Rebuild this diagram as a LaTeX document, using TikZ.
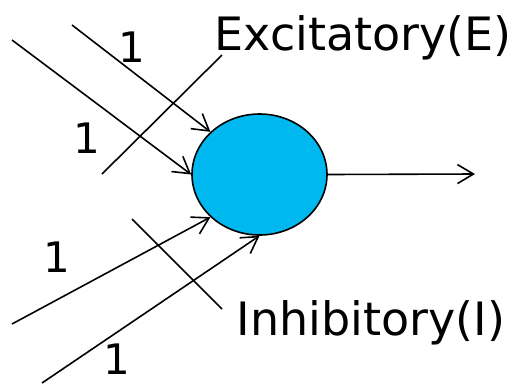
\documentclass[tikz,border=0pt]{standalone}
\usepackage{fontspec}
\setmainfont{DejaVu Sans}
\usepackage{tikz}
\usetikzlibrary{shapes.geometric, arrows.meta}
\definecolor{cellBlue}{HTML}{00B8F0}

\begin{document}
\begin{tikzpicture}[x=1pt, y=-1pt, line width=1.6pt,
    syn/.style={-{Straight Barb[length=16pt, width=19pt]}},
    weight/.style={font=\fontsize{42}{42}\selectfont, inner sep=0pt},
    tag/.style={font=\fontsize{46}{46}\selectfont, inner sep=0pt}]
    \useasboundingbox (0,0) rectangle (522,384);

    \node[ellipse, draw, fill=cellBlue, minimum width=135pt, minimum height=121pt,
          inner sep=0pt] (neuron) at (259.5,174.5) {};

    % inputs and output
    \coordinate (in1) at (72,25);
    \coordinate (in2) at (12,40);
    \coordinate (in3) at (12,324);
    \coordinate (in4) at (42,383);
    \coordinate (out) at (475,174);
    \draw[syn] (in1) -- (neuron.139);
    \draw[syn] (in2) -- (neuron.180);
    \draw[syn] (in3) -- (neuron.221);
    \draw[syn] (in4) -- (neuron.270);
    \draw[syn] (neuron.east) -- (out);

    \node[weight] (w1) at (132,47) {1};
    \node[weight] (w2) at (87,138) {1};
    \node[weight] (w3) at (57,257) {1};
    \node[weight] (w4) at (117,359) {1};

    % excitatory / inhibitory marks
    \node[tag, anchor=base] (excit) at (363,50) {Excitatory(E)};
    \node[tag, anchor=base] (inhib) at (371,335) {Inhibitory(I)};
    \coordinate (ex1) at (102,174);
    \coordinate (ex2) at (222,55);
    \coordinate (ih1) at (132,219);
    \coordinate (ih2) at (222,309);
    \draw (ex1) -- (ex2);
    \draw (ih1) -- (ih2);
\end{tikzpicture}
\end{document}
